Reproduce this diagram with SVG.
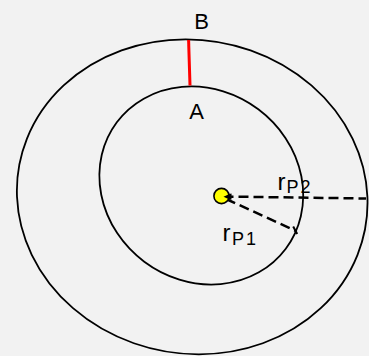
<svg xmlns="http://www.w3.org/2000/svg" width="369" height="356" viewBox="0 0 369 356">
  <defs>
    <style>
      .orbit { fill: none; stroke: #000; stroke-width: 1.8; }
      .dash { fill: none; stroke: #000; stroke-width: 2.5; stroke-dasharray: 10 5; }
      .lbl { font-family: "Liberation Sans", Arial, sans-serif; fill: #000; }
    </style>
    <marker id="arrowStart" markerUnits="userSpaceOnUse" markerWidth="10" markerHeight="8" refX="0" refY="4" orient="auto">
      <path d="M0,4 L8,0.8 L8,7.2 Z" fill="#000"/>
    </marker>
    <marker id="tickEnd" markerUnits="userSpaceOnUse" markerWidth="6" markerHeight="12" refX="3" refY="6" orient="auto">
      <path d="M3,1 L3,11" stroke="#000" stroke-width="2"/>
    </marker>
  </defs>
  <rect width="369" height="356" fill="#f2f2f2"/>

  <g id="outer-orbit">
    <ellipse class="orbit" cx="0" cy="0" rx="175.2" ry="157.5" transform="translate(192.2,196.8) skewX(2.4)"/>
  </g>
  <g id="inner-orbit">
    <ellipse class="orbit" cx="201.3" cy="185.5" rx="105.5" ry="95.2" transform="rotate(36.8 201.3 185.5)"/>
  </g>

  <g id="connectors">
    <line id="AB" x1="188.6" y1="40" x2="190" y2="85.5" stroke="#ff0000" stroke-width="3"/>
    <line id="rP2-line" class="dash" x1="223.5" y1="196.5" x2="366" y2="198.5" marker-start="url(#arrowStart)"/>
    <line id="rP1-line" class="dash" x1="226" y1="199" x2="296" y2="231"/>
    <line x1="293.2" y1="226.5" x2="297.2" y2="234" stroke="#000" stroke-width="2"/>
  </g>

  <g id="sun">
    <circle cx="221.5" cy="196" r="7.6" fill="#ffff00" stroke="#000" stroke-width="1.6"/>
    <path d="M223.5,196.8 L230.5,193.5 L230.5,200 Z" fill="#000"/>
  </g>

  <g id="label-B">
    <text class="lbl" x="201.5" y="29" font-size="22" text-anchor="middle">B</text>
  </g>
  <g id="label-A">
    <text class="lbl" x="196.5" y="119" font-size="22" text-anchor="middle">A</text>
  </g>
  <g id="label-rP2">
    <text class="lbl" x="277.4" y="189.5" font-size="24">r<tspan font-size="18" dx="1" dy="3.5" letter-spacing="2">P2</tspan></text>
  </g>
  <g id="label-rP1">
    <text class="lbl" x="222.6" y="240.5" font-size="24">r<tspan font-size="18" dx="1.5" dy="4.5" letter-spacing="2">P1</tspan></text>
  </g>
</svg>
